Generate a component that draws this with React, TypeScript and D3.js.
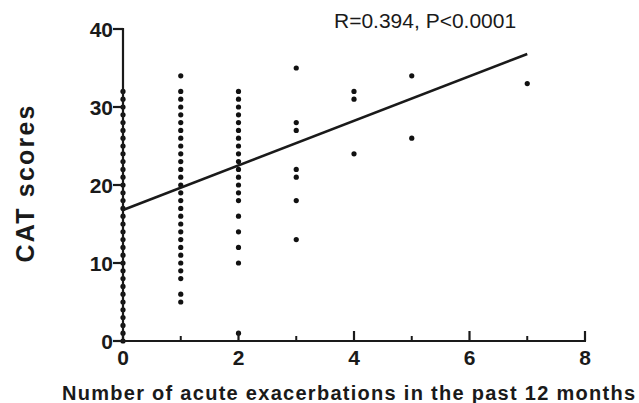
import * as d3 from "d3";

// exacerbation counts and the CAT scores observed at each count
const groupX = [0, 1, 2, 3, 4, 5, 7];
const groupScores: number[][] = [
  [0, 1, 2, 3, 4, 5, 6, 7, 8, 9, 10, 11, 12, 13, 14, 15, 16, 17, 18, 19, 20, 21, 22, 23, 24, 25, 26, 27, 28, 29, 30, 31, 32],
  [5, 6, 8, 9, 10, 11, 12, 13, 14, 15, 16, 17, 18, 19, 20, 21, 22, 23, 24, 25, 26, 27, 28, 29, 30, 31, 32, 34],
  [1, 10, 12, 14, 16, 18, 19, 20, 21, 22, 23, 24, 25, 26, 27, 28, 29, 30, 31, 32],
  [13, 18, 21, 22, 27, 28, 35],
  [24, 31, 32],
  [26, 34],
  [33],
];

// regression line end points
const fitX = [0, 7];
const fitY = [16.8, 36.8];

const xMajorTicks = [0, 2, 4, 6, 8];
const xMinorTicks = [1, 3, 5, 7];
const yTicks = [0, 10, 20, 30, 40];

const width = 639;
const height = 403;
const font = "'Liberation Sans', Arial, Helvetica, sans-serif";
const ink = "#1a1a1a";

export default function App() {
  const x = d3.scaleLinear().domain([0, 8]).range([123, 585]);
  const y = d3.scaleLinear().domain([0, 40]).range([341, 29]);

  const points = groupX.flatMap((gx, i) =>
    groupScores[i].map((s) => ({ x: gx, y: s }))
  );

  const line = d3
    .line<number>()
    .x((d) => x(d))
    .y((_, i) => y(fitY[i]));

  return (
    <svg
      width={width}
      height={height}
      style={{ position: "absolute", left: 0, top: 0, background: "#fff" }}
      fontFamily={font}
    >
      {/* dots */}
      {points.map((p, i) => (
        <circle key={i} cx={x(p.x)} cy={y(p.y)} r={2.6} fill="#111" />
      ))}

      {/* regression line */}
      <path d={line(fitX) ?? ""} stroke={ink} strokeWidth={2.6} fill="none" />

      {/* y axis */}
      <line x1={x(0)} x2={x(0)} y1={y(0) + 1} y2={y(40) - 1} stroke={ink} strokeWidth={2.2} />
      {yTicks.map((t) => (
        <g key={t}>
          <line x1={x(0) - 10} x2={x(0)} y1={y(t)} y2={y(t)} stroke={ink} strokeWidth={2.2} />
          <text
            x={x(0) - 10}
            y={y(t)}
            dy="0.36em"
            textAnchor="end"
            fontSize={21}
            fontWeight="bold"
            fill={ink}
          >
            {t}
          </text>
        </g>
      ))}

      {/* x axis, ticks point up into the plot */}
      <line x1={x(0)} x2={x(8) + 1} y1={y(0)} y2={y(0)} stroke={ink} strokeWidth={2.2} />
      {xMajorTicks.map((t) => (
        <g key={t}>
          <line x1={x(t)} x2={x(t)} y1={y(0)} y2={y(0) - 10} stroke={ink} strokeWidth={2.2} />
          <text
            x={x(t)}
            y={y(0) + 24}
            textAnchor="middle"
            fontSize={21}
            fontWeight="bold"
            fill={ink}
          >
            {t}
          </text>
        </g>
      ))}
      {xMinorTicks.map((t) => (
        <line key={t} x1={x(t)} x2={x(t)} y1={y(0)} y2={y(0) - 5} stroke={ink} strokeWidth={2} />
      ))}

      {/* titles */}
      <text
        transform="translate(34,184) rotate(-90)"
        textAnchor="middle"
        fontSize={25}
        fontWeight="bold"
        fill={ink}
        textLength={157}
        lengthAdjust="spacing"
      >
        CAT scores
      </text>
      <text
        x={62}
        y={400}
        fontSize={20}
        fontWeight="bold"
        fill={ink}
        textLength={573}
        lengthAdjust="spacing"
      >
        Number of acute exacerbations in the past 12 months
      </text>
      <text x={334} y={28} fontSize={21} fill={ink}>
        R=0.394, P&lt;0.0001
      </text>
    </svg>
  );
}
